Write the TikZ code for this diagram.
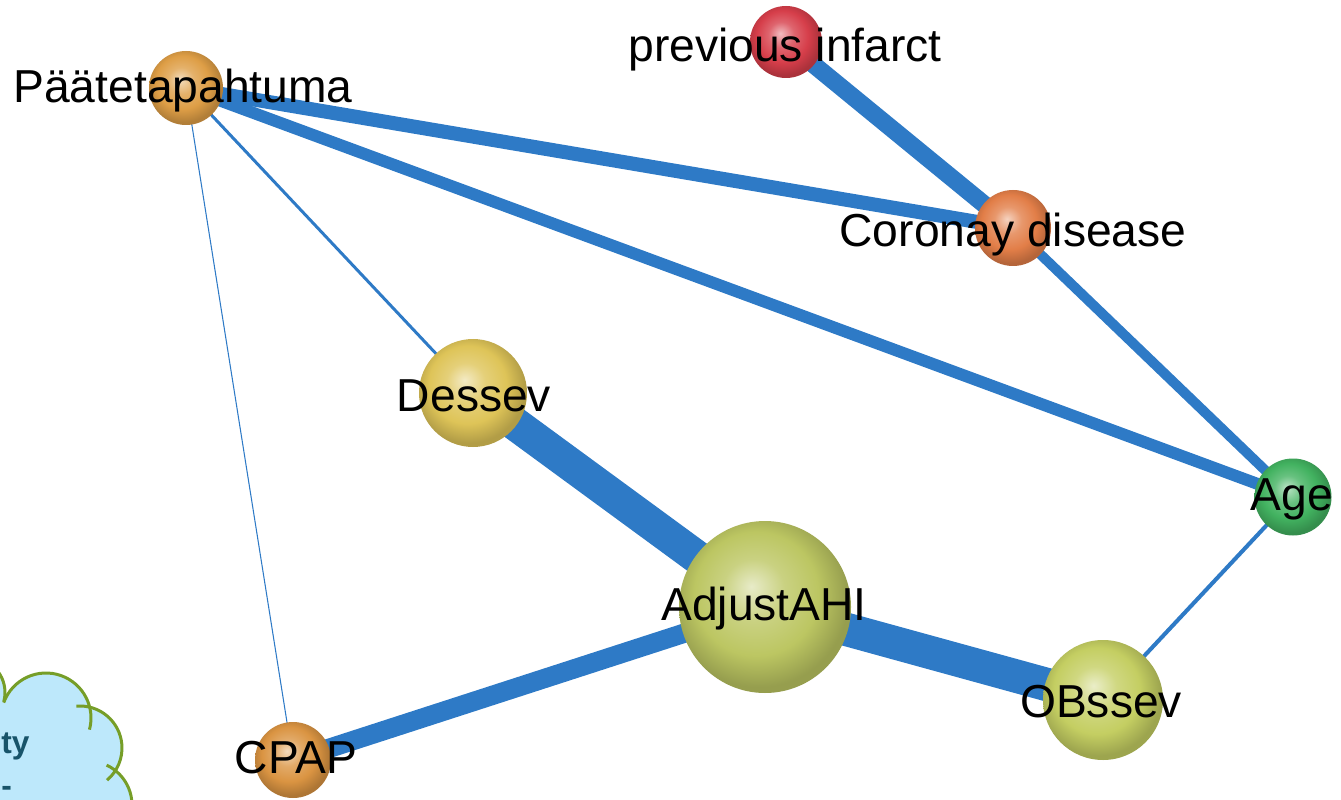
\documentclass[tikz,border=0pt]{standalone}
\usepackage{fontspec}
\setmainfont{Liberation Sans}
\usetikzlibrary{backgrounds}
\definecolor{edgeblue}{RGB}{46,122,198}
\definecolor{cloudblue}{RGB}{189,232,251}
\definecolor{cloudgreen}{RGB}{118,158,40}
\definecolor{cloudtext}{RGB}{24,84,106}
\colorlet{softc}{gray}
\pgfdeclareradialshading[softc]{softball}{\pgfqpoint{-4bp}{6bp}}{%
  color(0bp)=(softc!35!white); color(9bp)=(softc!80!white);
  color(18bp)=(softc); color(26bp)=(softc!80!black); color(50bp)=(softc!80!black)}
\tikzset{
  ball/.style 2 args={circle, /utils/exec={\colorlet{softc}{#2}}, shading=softball,
    minimum size=#1, inner sep=0pt},
  lbl/.style={anchor=base, inner sep=0pt, font=\fontsize{26.3}{29}\selectfont},
  cloudlbl/.style={anchor=base west, inner sep=0pt, text=cloudtext,
    font=\fontsize{18}{20}\selectfont\bfseries},
  link/.style={draw=edgeblue, line width=#1}
}
\begin{document}
\begin{tikzpicture}
\useasboundingbox (0,0) rectangle (26.82,-16);
% puffs of the cut-off cloud
\begin{scope}
\clip (0,0) rectangle (26.82,-16);
\fill[cloudblue] (-0.6,-13.85) circle (0.7);
\fill[cloudblue] (0.92,-14.36) circle (0.9);
\fill[cloudblue] (1.6,-14.96) circle (0.84);
\fill[cloudblue] (1.76,-16.1) circle (0.88);
\fill[cloudblue] (-1,-13.6) -- (0.92,-14.36) -- (1.6,-14.96) -- (1.76,-16.1) -- (-1,-16.5) -- cycle;
\draw[cloudgreen, line width=1.7pt]
  ([shift={(90:0.7)}]-0.6,-13.85) arc (90:-15:0.7);
\draw[cloudgreen, line width=1.7pt]
  ([shift={(160:0.9)}]0.92,-14.36) arc (160:-15:0.9);
\draw[cloudgreen, line width=1.7pt]
  ([shift={(95:0.84)}]1.6,-14.96) arc (95:-50:0.84);
\draw[cloudgreen, line width=1.7pt]
  ([shift={(65:0.88)}]1.76,-16.1) arc (65:-20:0.88);
\node[cloudlbl] (cty) at (0.02,-15.06) {ty};
\node[cloudlbl] (cdash) at (0.02,-15.92) {-};
\end{scope}

% balls
\node[ball={1.48cm}{rgb,255:red,222;green,158;blue,70}] (paate) at (3.72,-1.76) {};
\node[ball={1.44cm}{rgb,255:red,214;green,62;blue,74}] (prev) at (15.72,-0.84) {};
\node[ball={1.52cm}{rgb,255:red,226;green,126;blue,72}] (coro) at (20.26,-4.56) {};
\node[ball={2.16cm}{rgb,255:red,222;green,196;blue,88}] (dess) at (9.46,-7.86) {};
\node[ball={1.54cm}{rgb,255:red,66;green,178;blue,96}] (age) at (25.86,-9.94) {};
\node[ball={3.44cm}{rgb,255:red,188;green,198;blue,98}] (ahi) at (15.3,-12.14) {};
\node[ball={2.4cm}{rgb,255:red,196;green,206;blue,98}] (obs) at (22.06,-14.0) {};
\node[ball={1.52cm}{rgb,255:red,218;green,148;blue,66}] (cpap) at (5.86,-15.2) {};

% links
\begin{scope}[on background layer]
\draw[link=8pt] (paate.center) -- (coro.center);
\draw[link=6.8pt] (paate.center) -- (age.center);
\draw[link=1.7pt] (paate.center) -- (dess.center);
\draw[link=0.6pt] (paate.center) -- (cpap.center);
\draw[link=10pt] (prev.center) -- (coro.center);
\draw[link=5.7pt] (coro.center) -- (age.center);
\draw[link=19pt] (dess.center) -- (ahi.center);
\draw[link=19pt] (ahi.center) -- (obs.center);
\draw[link=11pt] (ahi.center) -- (cpap.center);
\draw[link=2.3pt] (age.center) -- (obs.center);
\end{scope}

% labels
\node[lbl] (paateL) at (3.66,-2.06) {Päätetapahtuma};
\node[lbl] (prevL) at (15.7,-1.24) {previous infarct};
\node[lbl] (coroL) at (20.26,-4.94) {Coronay disease};
\node[lbl] (dessL) at (9.48,-8.22) {Dessev};
\node[lbl] (ageL) at (25.84,-10.2) {Age};
\node[lbl] (ahiL) at (15.28,-12.4) {AdjustAHI};
\node[lbl] (obsL) at (22.02,-14.34) {OBssev};
\node[lbl] (cpapL) at (5.92,-15.46) {CPAP};
\end{tikzpicture}
\end{document}
